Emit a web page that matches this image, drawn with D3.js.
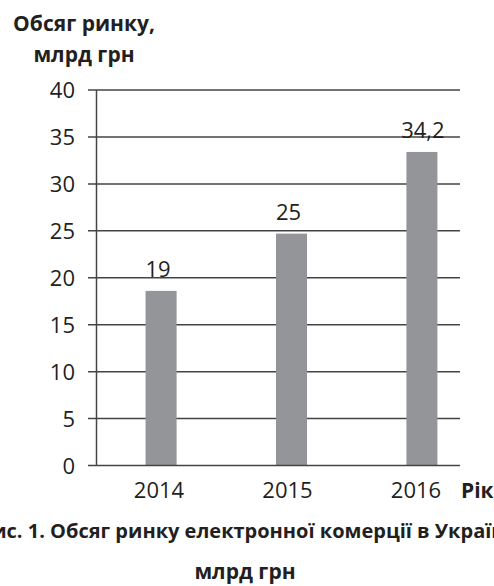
<!DOCTYPE html>
<html>
<head>
<meta charset="utf-8">
<script src="https://cdn.jsdelivr.net/npm/d3@7"></script>
<style>
  html, body { margin: 0; padding: 0; background: #fff; }
  svg { display: block; }
  text { font-family: "Open Sans", "DejaVu Sans", sans-serif; fill: #231f20; }
</style>
</head>
<body>
<svg id="chart" width="494" height="586"></svg>
<script>
// ---- data ----
const years = ["2014", "2015", "2016"];
const barValues = [18.6, 24.7, 33.4];          // bar heights as drawn
const valueLabels = ["19", "25", "34,2"];      // printed labels
const yTicks = [0, 5, 10, 15, 20, 25, 30, 35, 40];
const yTitleLines = ["Обсяг ринку,", "млрд грн"];
const xTitle = "Рік";
const captionLines = ["Рис. 1. Обсяг ринку електронної комерції в Україні,", "млрд грн"];

const svg = d3.select("#chart");
const gridColor = "#444";
const barColor = "#939598";

const y = d3.scaleLinear().domain([0, 40]).range([465.5, 90]);
const x = d3.scaleBand().domain(years).range([96, 487]).paddingInner(0.762).paddingOuter(0.38);
const xLab = d3.scalePoint().domain(years).range([159, 416]);

const axisX = 96.5, gridStart = 88, gridEnd = 460;

// gridlines (extend left as ticks)
svg.append("g").selectAll("line").data(yTicks.filter(d => d > 0)).join("line")
  .attr("x1", gridStart).attr("x2", gridEnd)
  .attr("y1", d => y(d)).attr("y2", d => y(d))
  .attr("stroke", gridColor).attr("stroke-width", 1.5);

// y tick labels via d3 axis
const yAxis = d3.axisLeft(y).tickValues(yTicks).tickSize(0).tickPadding(0).tickFormat(d3.format("d"));
const gy = svg.append("g").attr("transform", `translate(75,0)`).call(yAxis);
gy.select(".domain").remove();
gy.selectAll("text").attr("font-size", 22).attr("font-family", "Open Sans").attr("fill", "#231f20").attr("dy", "0.36em");

// bars
svg.append("g").selectAll("rect").data(years).join("rect")
  .attr("x", d => x(d)).attr("width", x.bandwidth())
  .attr("y", (d, i) => y(barValues[i]))
  .attr("height", (d, i) => y(0) - y(barValues[i]))
  .attr("fill", barColor);

// value labels
svg.append("g").selectAll("text").data(years).join("text")
  .attr("x", (d, i) => x(d) + x.bandwidth() / 2 + [-3, -3, 1][i])
  .attr("y", (d, i) => y(barValues[i]) - 14)
  .attr("text-anchor", "middle").attr("font-size", 22)
  .text((d, i) => valueLabels[i]);

// axes lines
svg.append("line").attr("x1", axisX).attr("x2", axisX).attr("y1", y(40)).attr("y2", y(0))
  .attr("stroke", gridColor).attr("stroke-width", 1.5);
svg.append("line").attr("x1", gridStart).attr("x2", gridEnd).attr("y1", y(0)).attr("y2", y(0))
  .attr("stroke", gridColor).attr("stroke-width", 1.5);

// x labels
svg.append("g").selectAll("text").data(years).join("text")
  .attr("x", d => xLab(d)).attr("y", 498)
  .attr("text-anchor", "middle").attr("font-size", 22)
  .text(d => d);

svg.append("text").attr("x", 461).attr("y", 498).attr("font-size", 21).attr("font-weight", "bold").text(xTitle);

// y title
svg.append("g").selectAll("text").data(yTitleLines).join("text")
  .attr("x", 84).attr("y", (d, i) => [31, 62][i])
  .attr("text-anchor", "middle").attr("font-size", 21).attr("font-weight", "bold")
  .text(d => d);

// caption
svg.append("g").selectAll("text").data(captionLines).join("text")
  .attr("x", (d, i) => [248, 245][i]).attr("y", (d, i) => [538, 579][i])
  .attr("text-anchor", "middle").attr("font-size", (d, i) => [20, 21][i]).attr("font-weight", "bold")
  .text(d => d);
</script>
</body>
</html>
